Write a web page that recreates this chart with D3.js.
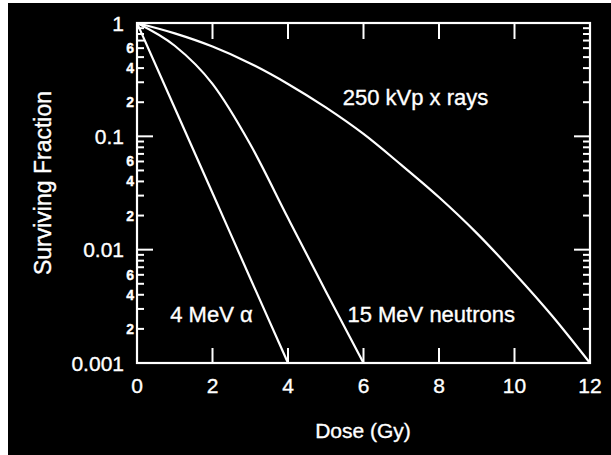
<!DOCTYPE html>
<html>
<head>
<meta charset="utf-8">
<script src="https://cdn.jsdelivr.net/npm/d3@7"></script>
<style>
  html, body { margin: 0; padding: 0; background: #fff; }
  svg { display: block; }
  text { font-family: "Liberation Sans", Arial, Helvetica, sans-serif; fill: #fff; stroke: #fff; stroke-width: 0.35; }
</style>
</head>
<body>
<div id="chart"></div>
<script>
// Cell survival curves: surviving fraction vs dose for three radiation types.

// data
const doseAlpha    = [0, 1, 2, 3, 4];
const survAlpha    = [1, 0.178, 0.0316, 0.0056, 0.001];

const doseNeutron  = [0, 1, 2, 3, 4, 5, 6];
const survNeutron  = [1, 0.63, 0.29, 0.085, 0.019, 0.0043, 0.001];

const doseXray     = [0, 1, 2, 3, 4, 5, 6, 7, 8, 9, 10, 11, 12];
const survXray     = [1, 0.81, 0.62, 0.44, 0.29, 0.18, 0.105, 0.056, 0.029, 0.014, 0.0062, 0.0026, 0.001];

const xTicks       = [0, 2, 4, 6, 8, 10, 12];
const yMajor       = [1, 0.1, 0.01, 0.001];
const yMajorLabels = ["1", "0.1", "0.01", "0.001"];
const minorDigits  = [2, 3, 4, 5, 6, 7, 8, 9];
const minorLabeled = [2, 4, 6];

const curveLabels = [
  { text: "250 kVp x rays",   dose: 5.45, surv: 0.19 },
  { text: "15 MeV neutrons",  dose: 5.575, surv: 0.0023 },
  { text: "4 MeV \u03b1",     dose: 0.88, surv: 0.0023 }
];

// 1) layout
const W = 611, H = 455;
const plot = { left: 137, right: 590, top: 23, bottom: 363 };

const svg = d3.select("#chart").append("svg")
  .attr("width", W)
  .attr("height", H);

// white scan border on top/left, black page
svg.append("rect").attr("width", W).attr("height", H).attr("fill", "#fff");
svg.append("rect").attr("x", 8).attr("y", 3).attr("width", W - 8).attr("height", H - 3).attr("fill", "#000");

// 2) scales
const x = d3.scaleLinear().domain([0, 12]).range([plot.left, plot.right]);
const y = d3.scaleLog().domain([0.001, 1]).range([plot.bottom, plot.top]);

// minor tick values 2..9 in each decade
const minorVals = [];
[0.001, 0.01, 0.1].forEach(dec => minorDigits.forEach(m => minorVals.push(m * dec)));
const leadDigit = v => Math.round(v / Math.pow(10, Math.floor(Math.log10(v) + 1e-9)));

const g = svg.append("g");

// 3) frame
g.append("rect")
  .attr("x", plot.left).attr("y", plot.top)
  .attr("width", plot.right - plot.left)
  .attr("height", plot.bottom - plot.top)
  .attr("fill", "none")
  .attr("stroke", "#fff")
  .attr("stroke-width", 2.2);

// x ticks, inward on bottom and top
const innerX = xTicks.filter(d => d > 0 && d < 12);
g.selectAll("line.xb").data(innerX).enter().append("line")
  .attr("x1", d => x(d)).attr("x2", d => x(d))
  .attr("y1", plot.bottom).attr("y2", plot.bottom - 15)
  .attr("stroke", "#fff").attr("stroke-width", 2);
g.selectAll("line.xt").data(innerX).enter().append("line")
  .attr("x1", d => x(d)).attr("x2", d => x(d))
  .attr("y1", plot.top).attr("y2", plot.top + 16)
  .attr("stroke", "#fff").attr("stroke-width", 2);

// y ticks, inward on left and right
const innerMajor = yMajor.filter(d => d < 1 && d > 0.001);
[[plot.left, 1], [plot.right, -1]].forEach(([x0, dir]) => {
  g.selectAll(null).data(innerMajor).enter().append("line")
    .attr("x1", x0).attr("x2", x0 + dir * 16)
    .attr("y1", d => y(d)).attr("y2", d => y(d))
    .attr("stroke", "#fff").attr("stroke-width", 2);
  g.selectAll(null).data(minorVals).enter().append("line")
    .attr("x1", x0).attr("x2", x0 + dir * 7)
    .attr("y1", d => y(d)).attr("y2", d => y(d))
    .attr("stroke", "#fff").attr("stroke-width", 2);
});

// 4) tick labels
g.selectAll("text.xl").data(xTicks).enter().append("text")
  .attr("x", d => x(d)).attr("y", 393)
  .attr("text-anchor", "middle")
  .attr("font-size", 21)
  .text(d => d);

g.selectAll("text.yl").data(yMajor).enter().append("text")
  .attr("x", 124).attr("y", d => y(d) + 7.5)
  .attr("text-anchor", "end")
  .attr("font-size", 21)
  .text((d, i) => yMajorLabels[i]);

const minorLabelVals = minorVals.filter(v => minorLabeled.includes(leadDigit(v)));
g.selectAll("text.ym").data(minorLabelVals).enter().append("text")
  .attr("x", 134).attr("y", d => y(d) + 5)
  .attr("text-anchor", "end")
  .attr("font-size", 14)
  .attr("font-weight", "bold")
  .text(d => leadDigit(d));

// 5) axis titles
svg.append("text")
  .attr("x", 363).attr("y", 438)
  .attr("text-anchor", "middle")
  .attr("font-size", 21)
  .text("Dose (Gy)");

svg.append("text")
  .attr("transform", "translate(51,183) rotate(-90)")
  .attr("text-anchor", "middle")
  .attr("font-size", 23)
  .text("Surviving Fraction");

// 6) curves
const line = d3.line()
  .x(d => x(d[0]))
  .y(d => y(d[1]))
  .curve(d3.curveMonotoneX);

const series = [
  d3.zip(doseAlpha, survAlpha),
  d3.zip(doseNeutron, survNeutron),
  d3.zip(doseXray, survXray)
];

g.selectAll("path.curve").data(series).enter().append("path")
  .attr("class", "curve")
  .attr("d", line)
  .attr("fill", "none")
  .attr("stroke", "#fff")
  .attr("stroke-width", 2.2);

// 7) curve labels
g.selectAll("text.cl").data(curveLabels).enter().append("text")
  .attr("x", d => x(d.dose)).attr("y", d => y(d.surv))
  .attr("font-size", 22)
  .text(d => d.text);
</script>
</body>
</html>
